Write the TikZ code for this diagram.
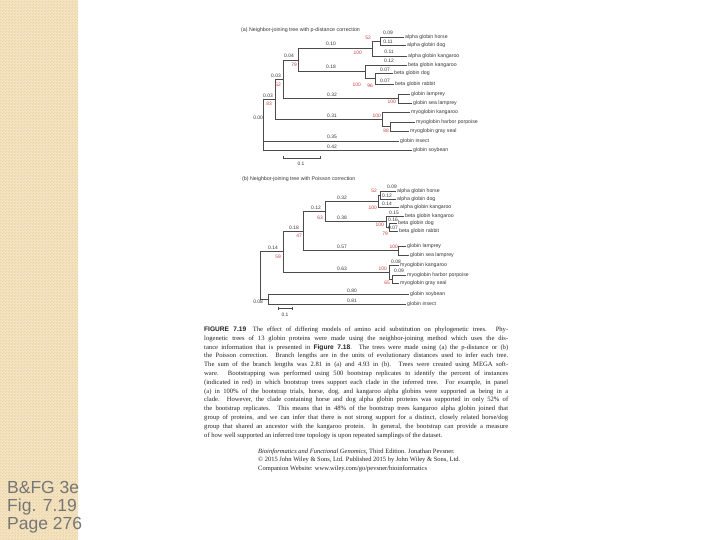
\documentclass[tikz,border=0pt]{standalone}
\usepackage{fontspec}
\setmainfont{Liberation Serif}
\setsansfont{Liberation Sans}
\usetikzlibrary{patterns}
\pgfdeclarepatternformonly{finecheck}{\pgfqpoint{0pt}{0pt}}{\pgfqpoint{3pt}{3pt}}{\pgfqpoint{3pt}{3pt}}{%
  \pgfpathrectangle{\pgfqpoint{0pt}{0pt}}{\pgfqpoint{1.5pt}{1.5pt}}%
  \pgfpathrectangle{\pgfqpoint{1.5pt}{1.5pt}}{\pgfqpoint{1.5pt}{1.5pt}}%
  \pgfusepath{fill}}
\definecolor{stripbase}{RGB}{245,229,196}
\definecolor{stripdark}{RGB}{235,213,168}
\definecolor{sidetext}{RGB}{118,118,118}
\definecolor{treeline}{RGB}{75,75,75}
\definecolor{bootred}{RGB}{205,65,65}
\definecolor{labgray}{RGB}{55,55,55}
\definecolor{captext}{RGB}{35,35,35}
\tikzset{
  branch/.style={draw=treeline, line width=0.6pt},
  leafedge/.style={branch, shorten >=1.2pt},
  leaf/.style={anchor=west, inner sep=0pt, font=\sffamily\fontsize{5.2}{6}\selectfont, text=labgray},
  blen/.style={inner sep=0pt, font=\sffamily\fontsize{4.9}{5.5}\selectfont, text=labgray},
  boot/.style={anchor=east, inner sep=0pt, font=\sffamily\fontsize{4.9}{5.5}\selectfont, text=bootred},
  ttl/.style={anchor=west, inner sep=0pt, font=\sffamily\fontsize{5.3}{6}\selectfont, text=labgray},
  sidel/.style={anchor=base west, inner sep=0pt, font=\sffamily\fontsize{17.5}{19}\selectfont, text=sidetext},
  capl/.style={anchor=base west, inner sep=0pt, font=\fontsize{6.6}{7.5}\selectfont, text=captext},
  attl/.style={anchor=base west, inner sep=0pt, font=\fontsize{6.5}{7.5}\selectfont, text=captext},
}
\begin{document}
\begin{tikzpicture}[x=1pt,y=-1pt]
\useasboundingbox (0,0) rectangle (720,540);
\fill[white] (0,0) rectangle (720,540);
\fill[stripbase] (0,0) rectangle (78,540);
\fill[pattern=finecheck, pattern color=stripdark] (0,0) rectangle (78,540);

% side text
\node[sidel] (side1) at (7,493) {B\&FG 3e};
\node[sidel] (side2) at (7,511) {Fig. 7.19};
\node[sidel] (side3) at (7,529) {Page 276};

% ---------------- tree (a) ----------------
\node[ttl] (tita) at (241,30) {(a) Neighbor-joining tree with p-distance correction};
\node[leaf] (ahorse) at (405,37) {alpha globin horse};
\node[leaf] (adog) at (407,45) {alpha globin dog};
\node[leaf] (aakang) at (408,56) {alpha globin kangaroo};
\node[leaf] (abkang) at (408,65) {beta globin kangaroo};
\node[leaf] (abdog) at (394,73) {beta globin dog};
\node[leaf] (abrab) at (395,84) {beta globin rabbit};
\node[leaf] (alamp) at (411,94) {globin lamprey};
\node[leaf] (aslamp) at (413,103) {globin sea lamprey};
\node[leaf] (amkang) at (411,112) {myoglobin kangaroo};
\node[leaf] (aporp) at (416,122) {myoglobin harbor porpoise};
\node[leaf] (aseal) at (410,131) {myoglobin gray seal};
\node[leaf] (ainsect) at (400,141) {globin insect};
\node[leaf] (asoy) at (413,150) {globin soybean};

\coordinate (aH) at (380,41);
\coordinate (aAl) at (372,48.5);
\coordinate (aD) at (375,78.5);
\coordinate (aBe) at (365,71.75);
\coordinate (aA) at (298,60.1);
\coordinate (aL) at (398,98.5);
\coordinate (aB) at (283,79.3);
\coordinate (aP) at (390,126.5);
\coordinate (aM) at (382,119.25);
\coordinate (aC) at (275,99.3);
\coordinate (aRoot) at (263,99.3);

\draw[branch] (aRoot) |- (aC);
\draw[leafedge] (aRoot) |- (ainsect.west);
\draw[leafedge] (aRoot) |- (asoy.west);
\draw[branch] (aC) |- (aB);
\draw[branch] (aC) |- (aM);
\draw[branch] (aB) |- (aA);
\draw[branch] (aB) |- (aL);
\draw[branch] (aA) |- (aAl);
\draw[branch] (aA) |- (aBe);
\draw[branch] (aAl) |- (aH);
\draw[leafedge] (aAl) |- (aakang.west);
\draw[leafedge] (aH) |- (ahorse.west);
\draw[leafedge] (aH) |- (adog.west);
\draw[leafedge] (aBe) |- (abkang.west);
\draw[branch] (aBe) |- (aD);
\draw[leafedge] (aD) |- (abdog.west);
\draw[leafedge] (aD) |- (abrab.west);
\draw[leafedge] (aL) |- (alamp.west);
\draw[leafedge] (aL) |- (aslamp.west);
\draw[leafedge] (aM) |- (amkang.west);
\draw[branch] (aM) |- (aP);
\draw[leafedge] (aP) |- (aporp.west);
\draw[leafedge] (aP) |- (aseal.west);

\node[blen] (la1) at (388,33) {0.09};
\node[blen] (la2) at (388,42) {0.11};
\node[blen] (la3) at (389,52) {0.11};
\node[blen] (la4) at (389,61) {0.12};
\node[blen] (la5) at (385,70) {0.07};
\node[blen] (la6) at (385,80.5) {0.07};
\node[blen] (la7) at (331,44) {0.10};
\node[blen] (la8) at (331,67) {0.18};
\node[blen] (la9) at (289,56) {0.04};
\node[blen] (la10) at (276,76) {0.03};
\node[blen] (la11) at (268,96) {0.03};
\node[blen] (la12) at (332,95) {0.32};
\node[blen] (la13) at (332,115.5) {0.31};
\node[blen] (la14) at (332,137) {0.35};
\node[blen] (la15) at (332,146.5) {0.42};
\node[blen, anchor=east] (la16) at (263,118) {0.00};

\node[boot] (ba1) at (371,38) {52};
\node[boot] (ba2) at (362,53) {100};
\node[boot] (ba3) at (361,85) {100};
\node[boot] (ba4) at (373,86) {96};
\node[boot] (ba5) at (297,65) {79};
\node[boot] (ba6) at (281,85) {52};
\node[boot] (ba7) at (272,104) {83};
\node[boot] (ba8) at (396,102) {100};
\node[boot] (ba9) at (381,116) {100};
\node[boot] (ba10) at (389,130.5) {88};

\coordinate (sa1) at (283,158);
\coordinate (sa2) at (320,158);
\draw[branch] (sa1) -- (sa2);
\draw[branch] ([yshift=1.5pt]sa1) -- ([yshift=-1.5pt]sa1);
\draw[branch] ([yshift=1.5pt]sa2) -- ([yshift=-1.5pt]sa2);
\node[blen] (sal) at (301,164) {0.1};

% ---------------- tree (b) ----------------
\node[ttl] (titb) at (242,179) {(b) Neighbor-joining tree with Poisson correction};
\node[leaf] (bhorse) at (397,191) {alpha globin horse};
\node[leaf] (bdog) at (397,199) {alpha globin dog};
\node[leaf] (bakang) at (400,207) {alpha globin kangaroo};
\node[leaf] (bbkang) at (405,216) {beta globin kangaroo};
\node[leaf] (bbdog) at (398,223) {beta globin dog};
\node[leaf] (bbrab) at (399,231) {beta globin rabbit};
\node[leaf] (blamp) at (407,246) {globin lamprey};
\node[leaf] (bslamp) at (410,255) {globin sea lamprey};
\node[leaf] (bmkang) at (400,265) {myoglobin kangaroo};
\node[leaf] (bporp) at (407,275) {myoglobin harbor porpoise};
\node[leaf] (bseal) at (400,283) {myoglobin gray seal};
\node[leaf] (bsoy) at (410,294) {globin soybean};
\node[leaf] (binsect) at (407,304) {globin insect};

\coordinate (bH) at (380,195);
\coordinate (bAl) at (378,201);
\coordinate (bD) at (389,227);
\coordinate (bBe) at (386,221.5);
\coordinate (bAB) at (325,211.25);
\coordinate (bL) at (398,250.5);
\coordinate (bN) at (303,230.9);
\coordinate (bP) at (392,279);
\coordinate (bM) at (389,272);
\coordinate (bQ) at (283,251.45);
\coordinate (bS) at (268,299);
\coordinate (bRoot) at (260,251.45);

\draw[branch] (bRoot) |- (bQ);
\draw[branch] (bRoot) |- (bS);
\draw[leafedge] (bS) |- (bsoy.west);
\draw[leafedge] (bS) |- (binsect.west);
\draw[branch] (bQ) |- (bN);
\draw[branch] (bQ) |- (bM);
\draw[branch] (bN) |- (bAB);
\draw[branch] (bN) |- (bL);
\draw[branch] (bAB) |- (bAl);
\draw[branch] (bAB) |- (bBe);
\draw[branch] (bAl) |- (bH);
\draw[leafedge] (bAl) |- (bakang.west);
\draw[leafedge] (bH) |- (bhorse.west);
\draw[leafedge] (bH) |- (bdog.west);
\draw[leafedge] (bBe) |- (bbkang.west);
\draw[branch] (bBe) |- (bD);
\draw[leafedge] (bD) |- (bbdog.west);
\draw[leafedge] (bD) |- (bbrab.west);
\draw[leafedge] (bL) |- (blamp.west);
\draw[leafedge] (bL) |- (bslamp.west);
\draw[leafedge] (bM) |- (bmkang.west);
\draw[branch] (bM) |- (bP);
\draw[leafedge] (bP) |- (bporp.west);
\draw[leafedge] (bP) |- (bseal.west);

\node[blen] (lb1) at (392,187) {0.09};
\node[blen] (lb2) at (387,195.5) {0.12};
\node[blen] (lb3) at (387,204) {0.14};
\node[blen] (lb4) at (342,197.5) {0.32};
\node[blen] (lb5) at (394,212.5) {0.15};
\node[blen] (lb6) at (393,219.5) {0.16};
\node[blen] (lb7) at (393,227.5) {0.07};
\node[blen] (lb8) at (342,218) {0.38};
\node[blen] (lb9) at (316,207.5) {0.12};
\node[blen] (lb10) at (294,227.5) {0.18};
\node[blen] (lb11) at (342,247) {0.57};
\node[blen] (lb12) at (273,247.5) {0.14};
\node[blen] (lb13) at (396,262) {0.08};
\node[blen] (lb14) at (399,271) {0.09};
\node[blen] (lb15) at (342,268.5) {0.63};
\node[blen] (lb16) at (352,290.5) {0.80};
\node[blen] (lb17) at (352,300.5) {0.81};
\node[blen, anchor=east] (lb18) at (263,302) {0.08};

\node[boot] (bb1) at (377,191) {52};
\node[boot] (bb2) at (377,208) {100};
\node[boot] (bb3) at (384,224.5) {100};
\node[boot] (bb4) at (388,234) {79};
\node[boot] (bb5) at (323,218) {63};
\node[boot] (bb6) at (302,236) {47};
\node[boot] (bb7) at (398,247) {100};
\node[boot] (bb8) at (281,257) {59};
\node[boot] (bb9) at (387,269) {100};
\node[boot] (bb10) at (390,283) {65};

\coordinate (sb1) at (278,308);
\coordinate (sb2) at (292,308);
\draw[branch] (sb1) -- (sb2);
\draw[branch] ([yshift=1.5pt]sb1) -- ([yshift=-1.5pt]sb1);
\draw[branch] ([yshift=1.5pt]sb2) -- ([yshift=-1.5pt]sb2);
\node[blen] (sbl) at (285,315) {0.1};

% ---------------- caption ----------------
\node[capl] (cap1) at (204,331.5) {\makebox[304pt][s]{{\sffamily\bfseries FIGURE 7.19}\quad The effect of differing models of amino acid substitution on phylogenetic trees. Phy-}};
\node[capl] (cap2) at (204,340.3) {\makebox[304pt][s]{logenetic trees of 13 globin proteins were made using the neighbor-joining method which uses the dis-}};
\node[capl] (cap3) at (204,349.1) {\makebox[304pt][s]{tance information that is presented in {\sffamily\bfseries Figure 7.18}. The trees were made using (a) the p-distance or (b)}};
\node[capl] (cap4) at (204,357.9) {\makebox[304pt][s]{the Poisson correction. Branch lengths are in the units of evolutionary distances used to infer each tree.}};
\node[capl] (cap5) at (204,366.7) {\makebox[304pt][s]{The sum of the branch lengths was 2.81 in (a) and 4.93 in (b). Trees were created using MEGA soft-}};
\node[capl] (cap6) at (204,375.5) {\makebox[304pt][s]{ware. Bootstrapping was performed using 500 bootstrap replicates to identify the percent of instances}};
\node[capl] (cap7) at (204,384.3) {\makebox[304pt][s]{(indicated in red) in which bootstrap trees support each clade in the inferred tree. For example, in panel}};
\node[capl] (cap8) at (204,393.1) {\makebox[304pt][s]{(a) in 100\% of the bootstrap trials, horse, dog, and kangaroo alpha globins were supported as being in a}};
\node[capl] (cap9) at (204,401.9) {\makebox[304pt][s]{clade. However, the clade containing horse and dog alpha globin proteins was supported in only 52\% of}};
\node[capl] (cap10) at (204,410.7) {\makebox[304pt][s]{the bootstrap replicates. This means that in 48\% of the bootstrap trees kangaroo alpha globin joined that}};
\node[capl] (cap11) at (204,419.5) {\makebox[304pt][s]{group of proteins, and we can infer that there is not strong support for a distinct, closely related horse/dog}};
\node[capl] (cap12) at (204,428.3) {\makebox[304pt][s]{group that shared an ancestor with the kangaroo protein. In general, the bootstrap can provide a measure}};
\node[capl] (cap13) at (204,437.1) {of how well supported an inferred tree topology is upon repeated samplings of the dataset.};

\node[attl] (att1) at (258,453) {\textit{Bioinformatics and Functional Genomics}, Third Edition. Jonathan Pevsner.};
\node[attl] (att2) at (258,461.5) {© 2015 John Wiley \& Sons, Ltd. Published 2015 by John Wiley \& Sons, Ltd.};
\node[attl] (att3) at (258,470) {Companion Website: www.wiley.com/go/pevsner/bioinformatics};
\end{tikzpicture}
\end{document}
